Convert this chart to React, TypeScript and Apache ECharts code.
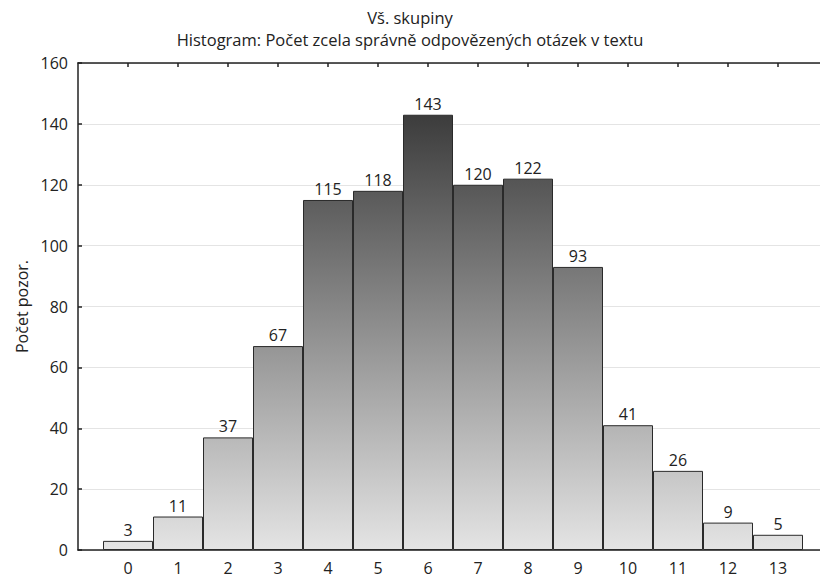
import React, { useEffect, useRef } from "react";
import * as echarts from "echarts";

const titleLines = ["Vš. skupiny", "Histogram: Počet zcela správně odpovězených otázek v textu"];
const yAxisName = "Počet pozor.";
const categories = [0, 1, 2, 3, 4, 5, 6, 7, 8, 9, 10, 11, 12, 13];
const counts = [3, 11, 37, 67, 115, 118, 143, 120, 122, 93, 41, 26, 9, 5];
const yTicks = [0, 20, 40, 60, 80, 100, 120, 140, 160];

const FONT = "Open Sans";
const FS = 16;

export default function App() {
  const ref = useRef<HTMLDivElement>(null);
  useEffect(() => {
    document.body.style.margin = "0";
    if (!ref.current) return;
    const chart = echarts.init(ref.current, null, { renderer: "svg" });
    const xMin = categories[0] - 1;
    const xMax = 13.84;
    const xBase = {
      type: "value" as const,
      min: xMin,
      max: xMax,
      interval: 1,
      splitLine: { show: false },
      axisLine: { show: true, onZero: false, lineStyle: { color: "#222", width: 1.5 } },
      axisTick: { show: true, inside: true, length: 4, customValues: categories, lineStyle: { color: "#222", width: 1.5 } },
    };
    const option: any = {
      animation: false,
      textStyle: { fontFamily: FONT },
      title: [
        { text: titleLines[0], left: "center", top: 4, textStyle: { fontFamily: FONT, fontSize: 16.5, fontWeight: "normal", color: "#222" } },
        { text: titleLines[1], left: "center", top: 26, textStyle: { fontFamily: FONT, fontSize: 16.5, fontWeight: "normal", color: "#222" } },
      ],
      grid: { left: 78, right: 0, top: 63, bottom: 28, containLabel: false },
      xAxis: [
        {
          ...xBase,
          position: "bottom",
          axisLabel: {
            show: true,
            customValues: categories,
            margin: 10,
            lineHeight: 16,
            color: "#222",
            fontSize: FS,
            fontFamily: FONT,
            formatter: (v: number) => (categories.indexOf(v) >= 0 ? String(v) : ""),
          },
        },
        {
          ...xBase,
          position: "top",
          axisLabel: { show: false },
        },
      ],
      yAxis: {
        type: "value",
        min: yTicks[0],
        max: yTicks[yTicks.length - 1],
        interval: 20,
        name: yAxisName,
        nameLocation: "middle",
        nameGap: 48,
        nameRotate: 90,
        nameTextStyle: { fontFamily: FONT, fontSize: FS, color: "#222" },
        axisLine: { show: true, onZero: false, lineStyle: { color: "#222", width: 1.5 } },
        axisTick: { show: true, inside: true, length: 4, lineStyle: { color: "#222", width: 1.5 } },
        axisLabel: { margin: 10, color: "#222", fontSize: FS, fontFamily: FONT },
        splitLine: { show: true, lineStyle: { color: "#e4e4e4", width: 1 } },
      },
      series: [
        {
          type: "bar",
          xAxisIndex: 0,
          barWidth: "100%",
          data: categories.map((c, i) => [c, counts[i]]),
          label: { show: true, position: "top", distance: 3, color: "#222", fontSize: FS, fontFamily: FONT },
          itemStyle: { color: "#888", borderColor: "#2a2a2a", borderWidth: 1 },
        },
      ],
    };
    chart.setOption(option);
    const maxVal = Math.max(...counts);
    const yTop = chart.convertToPixel({ yAxisIndex: 0 }, maxVal) as number;
    const yBottom = chart.convertToPixel({ yAxisIndex: 0 }, 0) as number;
    chart.setOption({
      series: [
        {
          itemStyle: {
            color: new echarts.graphic.LinearGradient(0, yTop, 0, yBottom, [
              { offset: 0, color: "#3c3c3c" },
              { offset: 1, color: "#e4e4e4" },
            ], true),
          },
        },
      ],
    });
    return () => chart.dispose();
  }, []);
  return <div ref={ref} style={{ width: 820, height: 578 }} />;
}
